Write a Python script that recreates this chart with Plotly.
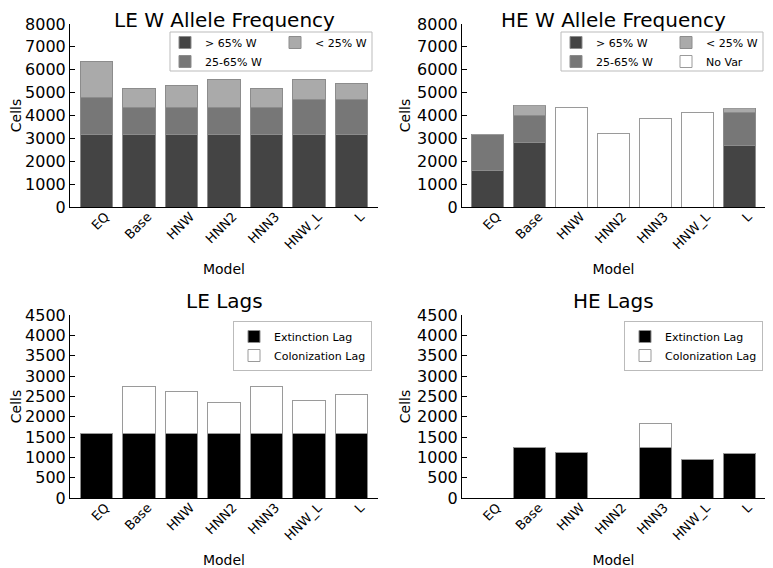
import plotly.graph_objects as go

models = ["EQ", "Base", "HNW", "HNN2", "HNN3", "HNW_L", "L"]

# LE W allele frequency (cells)
le_high = [3190, 3190, 3190, 3190, 3190, 3190, 3190]
le_mid = [1580, 1180, 1180, 1180, 1180, 1490, 1490]
le_low = [1570, 830, 960, 1220, 830, 875, 725]

# HE W allele frequency (cells)
he_high = [1580, 2835, 0, 0, 0, 0, 2690]
he_mid = [1600, 1185, 0, 0, 0, 0, 1460]
he_low = [0, 425, 0, 0, 0, 0, 150]
he_novar = [0, 0, 4330, 3200, 3860, 4125, 0]

# Lags (cells)
le_ext = [1590, 1590, 1590, 1590, 1590, 1590, 1590]
le_col = [0, 1140, 1030, 770, 1140, 800, 945]
he_ext = [0, 1242, 1129, 0, 1242, 957, 1095]
he_col = [0, 0, 0, 0, 590, 0, 0]

titles = ["LE W Allele Frequency", "HE W Allele Frequency", "LE Lags", "HE Lags"]

# page body has an 8px margin: the figure is drawn 8px in from the top-left
OFF = 8
FW, FH = 773 - OFF, 568 - OFF
FONT = "DejaVu Sans"
C_HIGH, C_MID, C_LOW = "#444444", "#777777", "#aaaaaa"
EDGE = "#8c8c8c"

fig = go.Figure()

def bar(x, y, name, color, xa, ya, legend, edge=EDGE):
    fig.add_trace(go.Bar(x=x, y=y, name=name, xaxis=xa, yaxis=ya, legend=legend,
                         marker=dict(color=color, line=dict(color=edge, width=1))))

bar(models, le_high, "> 65% W", C_HIGH, "x", "y", "legend")
bar(models, le_mid, "25-65% W", C_MID, "x", "y", "legend")
bar(models, le_low, "< 25% W", C_LOW, "x", "y", "legend2")

bar(models, he_high, "> 65% W", C_HIGH, "x2", "y2", "legend3")
bar(models, he_mid, "25-65% W", C_MID, "x2", "y2", "legend3")
bar(models, he_low, "< 25% W", C_LOW, "x2", "y2", "legend4")
bar(models, he_novar, "No Var", "#ffffff", "x2", "y2", "legend4", edge="#9a9a9a")

bar(models, le_ext, "Extinction Lag", "#000000", "x3", "y3", "legend5")
bar(models, le_col, "Colonization Lag", "#ffffff", "x3", "y3", "legend5", edge="#9a9a9a")
bar(models, he_ext, "Extinction Lag", "#000000", "x4", "y4", "legend6")
bar(models, he_col, "Colonization Lag", "#ffffff", "x4", "y4", "legend6", edge="#9a9a9a")

def fx(px):
    return (px - OFF) / FW

def fy(px):
    return 1 - (px - OFF) / FH

def px_x(a, b):
    return [fx(a), fx(b)]

def px_y(top, bottom):
    return [fy(bottom), fy(top)]

xdoms = [px_x(70, 378), px_x(462, 765), px_x(70, 378), px_x(462, 765)]
ydoms = [px_y(24, 207), px_y(24, 207), px_y(315, 498), px_y(315, 498)]
yranges = [[0, 8000], [0, 8000], [0, 4500], [0, 4500]]
ydticks = [1000, 1000, 500, 500]

layout = dict(
    template="none",
    width=FW, height=FH, margin=dict(l=0, r=0, t=0, b=0, autoexpand=False),
    plot_bgcolor="white", paper_bgcolor="white",
    barmode="stack", bargap=0.235,
    font=dict(family=FONT, color="black"),
)

for i in range(4):
    sx = "" if i == 0 else str(i + 1)
    layout["xaxis" + sx] = dict(
        domain=xdoms[i], anchor="y" + sx, type="category", range=[-0.62, 6.62],
        automargin=False,
        showline=True, linecolor="black", linewidth=1, ticks="", showgrid=False,
        zeroline=False,
        tickangle=-45, tickfont=dict(size=13, family=FONT, color="black"),
        ticklabelshift=9, ticklabelstandoff=-4,
        title=dict(text="Model", font=dict(size=14, family=FONT, color="black"), standoff=12),
    )
    layout["yaxis" + sx] = dict(
        domain=ydoms[i], anchor="x" + sx, range=yranges[i], dtick=ydticks[i],
        automargin=False,
        showline=True, linecolor="black", linewidth=1, ticks="inside", ticklen=5,
        tickcolor="black", showgrid=False, zeroline=False,
        tickfont=dict(size=16, family=FONT, color="black"),
        title=dict(text="Cells", font=dict(size=14, family=FONT, color="black"), standoff=3),
    )

def leg(xpx, ypx, xanchor="left", border=0):
    return dict(x=fx(xpx), y=fy(ypx), xanchor=xanchor, yanchor="top",
                bgcolor="rgba(0,0,0,0)", bordercolor="#bbbbbb", borderwidth=border,
                traceorder="normal",
                font=dict(size=11, family=FONT, color="black"), tracegroupgap=0)

layout["legend"] = leg(165, 28)
layout["legend2"] = leg(275, 28)
layout["legend3"] = leg(556, 28)
layout["legend4"] = leg(666, 28)
layout["legend5"] = leg(372, 321, xanchor="right", border=1)
layout["legend6"] = leg(763, 321, xanchor="right", border=1)

annotations = []
for i, t in enumerate(titles):
    cx = (xdoms[i][0] + xdoms[i][1]) / 2
    annotations.append(dict(text=t, x=cx, y=ydoms[i][1], xref="paper", yref="paper",
                            xanchor="center", yanchor="bottom", showarrow=False,
                            yshift=-10 if i < 2 else 0,
                            font=dict(size=20, family=FONT, color="black")))
layout["annotations"] = annotations

shapes = []
for (a, b) in [(170, 372), (561, 763)]:
    shapes.append(dict(type="rect", xref="paper", yref="paper",
                       x0=fx(a), x1=fx(b), y0=fy(71), y1=fy(32),
                       line=dict(color="#bbbbbb", width=1), fillcolor="rgba(0,0,0,0)"))
layout["shapes"] = shapes

fig.update_layout(**layout)
fig.write_html("out.html")
